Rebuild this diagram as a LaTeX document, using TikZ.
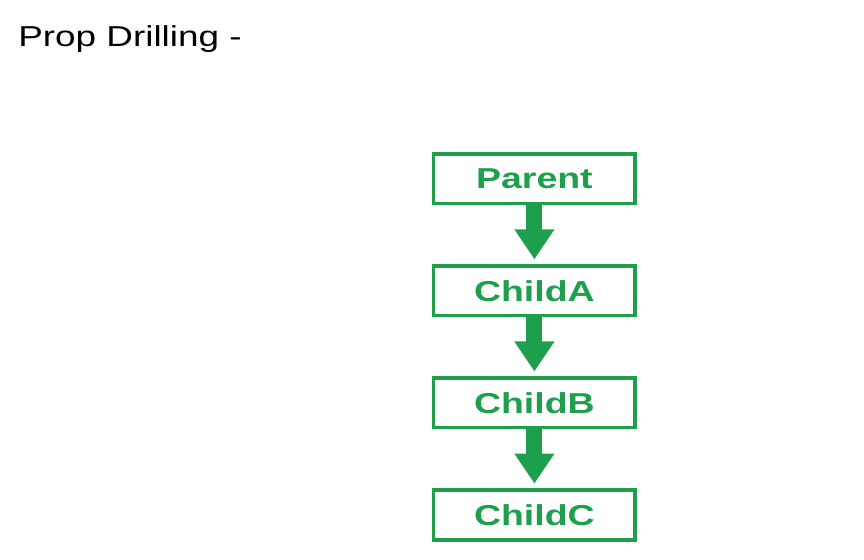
\documentclass[tikz,border=0pt]{standalone}
\usepackage{fontspec}
\setmainfont{Liberation Sans}
\newfontfamily\titlefont[FakeStretch=1.28]{Liberation Sans}
\newfontfamily\boxfont[FakeStretch=1.3]{Liberation Sans Bold}
\usetikzlibrary{positioning, arrows.meta}
\definecolor{drillgreen}{RGB}{30,159,75}
\tikzset{
  comp/.style={draw=drillgreen, line width=2.5pt, minimum width=5.04cm, minimum height=1.24cm,
    inner sep=0pt, text=drillgreen, font=\boxfont\fontsize{20.5}{24}\selectfont},
  passdown/.style={draw=drillgreen, line width=0.4cm, -{Triangle[width=0.95cm, length=0.75cm]}}
}
\begin{document}
\begin{tikzpicture}
  \useasboundingbox (0,0) rectangle (21.6,13.975);

  %\draw[step=1cm,gray,very thin] (0,0) grid (22,14);

  % ***************** TITLE *****************
  \node[anchor=base west, inner sep=0pt, font=\titlefont\fontsize{20.5}{24}\selectfont] (title) at (0.45,12.8) {Prop Drilling -};

  % ***************** COMPONENTS *****************
  \node[comp] (parent) at (13.36,9.51) {Parent};
  \node[comp, below=1.475cm of parent] (childA) {ChildA};
  \node[comp, below=1.475cm of childA] (childB) {ChildB};
  \node[comp, below=1.475cm of childB] (childC) {ChildC};

  % ***************** ARROWS *****************
  \draw[passdown] (parent.south) -- ([yshift=0.12cm]childA.north);
  \draw[passdown] (childA.south) -- ([yshift=0.12cm]childB.north);
  \draw[passdown] (childB.south) -- ([yshift=0.12cm]childC.north);

\end{tikzpicture}
\end{document}
